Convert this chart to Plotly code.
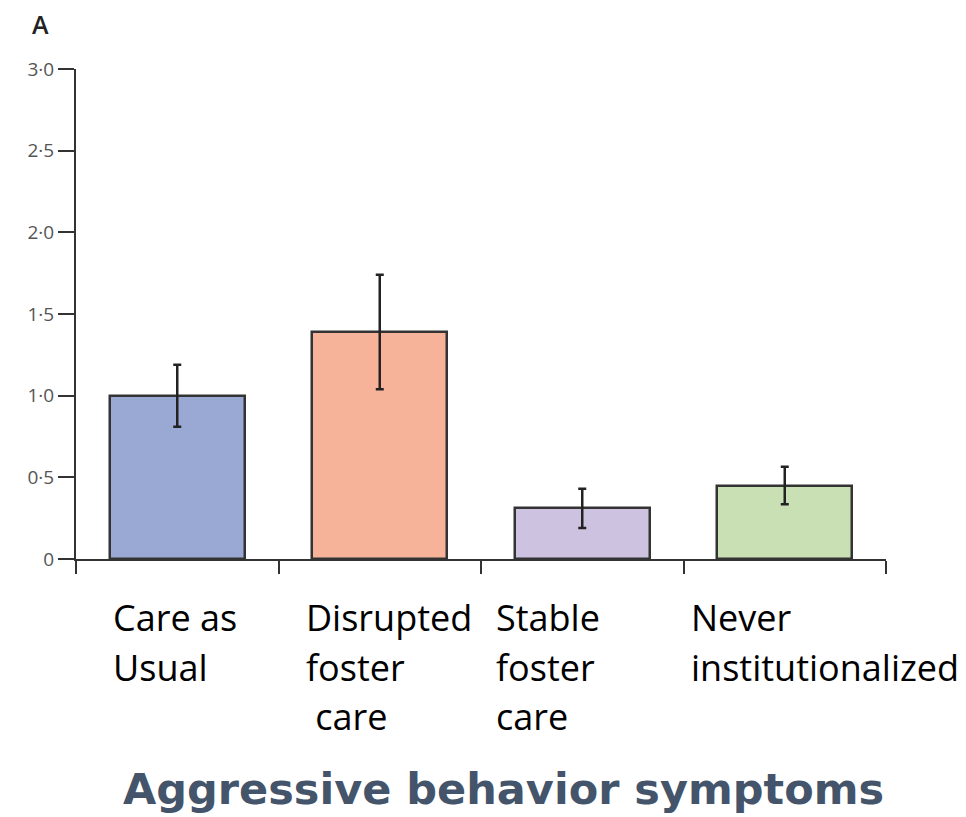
import plotly.graph_objects as go

categories = ["Care as Usual", "Disrupted foster care", "Stable foster care", "Never institutionalized"]
label_lines = [["Care as", "Usual"], ["Disrupted", "foster", " care"], ["Stable", "foster", "care"], ["Never", "institutionalized"]]
means = [1.0, 1.39, 0.31, 0.45]
errors = [0.19, 0.35, 0.12, 0.115]
tick_vals = [0, 0.5, 1.0, 1.5, 2.0, 2.5, 3.0]
tick_text = ["0", "0·5", "1·0", "1·5", "2·0", "2·5", "3·0"]
bar_colors = ["#9aa9d3", "#f7b39a", "#cdc2df", "#c9dfb4"]
title_text = "Aggressive behavior symptoms"
panel_letter = "A"

W, H = 966, 817
L, R, T, B = 76, 80, 69, 258
PW, PH = W - L - R, H - T - B


def px_to_paper(px, py):
    return (px - L) / PW, (H - B - py) / PH


fig = go.Figure()
fig.add_trace(go.Bar(
    x=categories, y=means, width=0.667,
    marker=dict(color=bar_colors, line=dict(color="#333333", width=2.5)),
    error_y=dict(type="data", array=errors, visible=True, color="#222222", thickness=2.5, width=4),
    showlegend=False,
))

fig.update_layout(
    width=W, height=H,
    margin=dict(l=L, r=R, t=T, b=B, pad=0),
    paper_bgcolor="white", plot_bgcolor="white",
    bargap=0,
    xaxis=dict(
        type="category", range=[-0.5, 3.5], showticklabels=False,
        tickson="boundaries", ticks="outside", ticklen=13, tickwidth=2, tickcolor="#333333",
        showline=True, linecolor="#333333", linewidth=2, showgrid=False, zeroline=False,
    ),
    yaxis=dict(
        range=[0, 3.0], tickvals=tick_vals, ticktext=tick_text,
        ticks="outside", ticklen=16, tickwidth=2, tickcolor="#333333",
        tickfont=dict(family="Open Sans", size=19, color="#555555"),
        showline=True, linecolor="#333333", linewidth=2, showgrid=False, zeroline=False,
    ),
)

# category labels (manually placed text blocks, left aligned)
label_x = [111, 304, 494, 689]
line_y0 = 617
line_h = 50
for lines, lx in zip(label_lines, label_x):
    for i, ln in enumerate(lines):
        ax, ay = px_to_paper(lx, line_y0 + i * line_h)
        fig.add_annotation(
            x=ax, y=ay, xref="paper", yref="paper",
            text=ln.replace(" ", "&nbsp;"), showarrow=False, xanchor="left", yanchor="middle",
            font=dict(family="Open Sans", size=36, color="#000000"),
        )

tx, ty = px_to_paper(504, 789)
fig.add_annotation(
    x=tx, y=ty, xref="paper", yref="paper",
    text="<b>" + title_text + "</b>", showarrow=False, xanchor="center", yanchor="middle",
    font=dict(family="DejaVu Sans", size=43, color="#44546a"),
)

lx, ly = px_to_paper(40, 24)
fig.add_annotation(
    x=lx, y=ly, xref="paper", yref="paper",
    text=panel_letter, showarrow=False, xanchor="center", yanchor="middle",
    font=dict(family="Open Sans", size=25, color="#222222", weight=600),
)

# extend y axis line below zero (as in the original)
fig.add_shape(type="line", xref="paper", yref="paper",
              x0=0, x1=0, y0=0, y1=-13 / PH,
              line=dict(color="#333333", width=2))

fig.write_html("out.html", config={"displayModeBar": False},
               post_script="document.body.style.margin='0';document.body.style.overflow='hidden';")
